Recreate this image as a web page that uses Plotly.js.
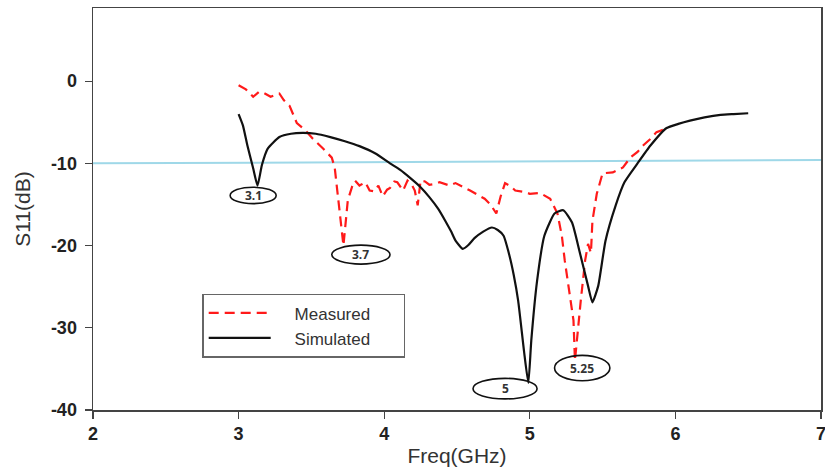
<!DOCTYPE html>
<html><head><meta charset="utf-8">
<script src="https://cdn.plot.ly/plotly-3.0.1.min.js"></script>
<style>html,body{margin:0;padding:0;background:#fff}#chart{width:825px;height:468px}</style>
</head><body><div id="chart"></div>
<script>
// Measured (red dashed)
const measFreq = [3.00,3.05,3.10,3.14,3.17,3.22,3.28,3.31,3.35,3.40,3.46,3.51,3.58,3.64,3.66,3.69,3.72,3.75,3.78,3.80,3.83,3.87,3.90,3.93,3.96,3.99,4.02,4.04,4.07,4.09,4.11,4.13,4.16,4.19,4.21,4.23,4.25,4.28,4.31,4.35,4.38,4.42,4.45,4.49,4.54,4.59,4.64,4.69,4.73,4.77,4.80,4.83,4.87,4.90,4.97,5.00,5.07,5.14,5.19,5.22,5.24,5.27,5.30,5.31,5.33,5.35,5.38,5.40,5.42,5.43,5.46,5.50,5.57,5.64,5.69,5.74,5.78,5.83,5.87,5.92,5.95];
const measS11  = [-0.5,-1.0,-1.9,-1.3,-1.4,-1.9,-1.5,-2.3,-3.0,-5.1,-6.0,-7.0,-8.2,-9.3,-10.5,-15.0,-20.0,-14.5,-12.8,-12.1,-12.7,-12.3,-13.3,-13.4,-12.7,-14.0,-13.2,-13.0,-12.2,-12.3,-12.8,-13.3,-12.1,-12.6,-13.3,-15.1,-12.1,-12.2,-12.6,-12.5,-12.3,-12.5,-12.7,-12.4,-12.8,-13.3,-13.8,-14.3,-15.0,-16.1,-14.0,-12.4,-12.8,-13.3,-13.5,-13.7,-13.6,-14.3,-16.1,-18.8,-21.8,-25.5,-29.1,-34.0,-30.0,-26.7,-21.8,-19.8,-20.9,-17.0,-13.7,-11.2,-11.1,-10.5,-9.3,-8.6,-7.8,-7.0,-6.2,-5.9,-5.7];
// Simulated (black solid)
const simFreq = [3.00,3.03,3.06,3.10,3.13,3.16,3.20,3.28,3.36,3.44,3.53,3.63,3.73,3.83,3.94,4.04,4.11,4.18,4.25,4.31,4.37,4.42,4.46,4.49,4.54,4.58,4.62,4.68,4.74,4.78,4.82,4.86,4.89,4.92,4.96,4.99,5.01,5.05,5.10,5.17,5.23,5.29,5.34,5.40,5.43,5.47,5.52,5.59,5.65,5.74,5.83,5.94,6.02,6.10,6.20,6.31,6.40,6.50];
const simS11  = [-4.0,-5.4,-7.8,-10.6,-12.7,-10.2,-8.2,-6.8,-6.4,-6.3,-6.4,-6.8,-7.3,-7.9,-8.8,-10.0,-10.8,-11.8,-12.9,-14.1,-15.5,-17.0,-18.3,-19.4,-20.4,-19.9,-19.1,-18.3,-17.8,-18.1,-18.8,-21.2,-23.6,-26.7,-32.8,-36.7,-31.6,-24.3,-18.8,-16.1,-15.7,-17.2,-20.6,-24.9,-26.9,-24.9,-19.4,-15.1,-12.3,-10.0,-7.8,-5.7,-5.2,-4.8,-4.4,-4.1,-4.0,-3.9];
// -10 dB reference line
const refFreq = [2, 7];
const refS11 = [-10.0, -9.6];
// Resonance labels (ellipses)
const labelText = ['3.1', '3.7', '5', '5.25'];
const labelX = [3.10, 3.84, 4.83, 5.36];
const labelY = [-13.9, -21.1, -37.4, -34.9];
const labelRX = [0.158, 0.20, 0.22, 0.19];
const labelRY = [1.0, 1.15, 1.25, 1.55];
const xTicks = [2, 3, 4, 5, 6, 7];
const yTicks = [0, -10, -20, -30, -40];

const traces = [
  {x: refFreq, y: refS11, mode: 'lines', line: {color: '#9fd8e8', width: 2}, showlegend: false, hoverinfo: 'skip'},
  {x: measFreq, y: measS11, mode: 'lines', name: '&nbsp;&nbsp;&nbsp;&nbsp;Measured&nbsp;&nbsp;&nbsp;&nbsp;&nbsp;&nbsp;', line: {color: '#ff1a1a', width: 2.2, dash: '10px,6px'}},
  {x: simFreq, y: simS11, mode: 'lines', name: '&nbsp;&nbsp;&nbsp;&nbsp;Simulated&nbsp;&nbsp;&nbsp;&nbsp;&nbsp;&nbsp;', line: {color: '#111', width: 2.2, shape: 'spline', smoothing: 0.5}}
];

const shapes = labelText.map((t, i) => ({
  type: 'circle', xref: 'x', yref: 'y',
  x0: labelX[i] - labelRX[i], x1: labelX[i] + labelRX[i],
  y0: labelY[i] - labelRY[i], y1: labelY[i] + labelRY[i],
  line: {color: '#111', width: 1.6}, fillcolor: 'rgba(255,255,255,0)'
}));
const annotations = labelText.map((t, i) => ({
  x: labelX[i], y: labelY[i], xref: 'x', yref: 'y', text: '<b>' + t + '</b>',
  showarrow: false, font: {family: 'Open Sans, sans-serif', size: 12, color: '#333'}
}));

const layout = {
  width: 825, height: 468,
  margin: {l: 93, r: 4, t: 8, b: 58},
  paper_bgcolor: '#fff', plot_bgcolor: '#fff',
  font: {family: 'Liberation Sans, Arial, sans-serif', color: '#222'},
  xaxis: {
    range: [2, 7], tickvals: xTicks, ticktext: xTicks.map(v => '<b>' + v + '</b>'),
    showgrid: false, zeroline: false, showline: true, linecolor: '#444', linewidth: 1.5, mirror: true,
    ticks: 'outside', ticklen: 7, tickcolor: '#444', tickwidth: 1.2, ticklabeloverflow: 'allow',
    tickfont: {size: 18, color: '#222'},
    title: {text: 'Freq(GHz)', font: {size: 21, color: '#333'}, standoff: 5}
  },
  yaxis: {
    range: [-40, 8.9], tickvals: yTicks, ticktext: yTicks.map(v => '<b>' + v + '</b>'),
    showgrid: false, zeroline: false, showline: true, linecolor: '#444', linewidth: 1.5, mirror: true,
    ticks: 'outside', ticklen: 7, tickcolor: '#444', tickwidth: 1.2, ticklabeloverflow: 'allow',
    ticklabelstandoff: 4,
    tickfont: {size: 18, color: '#222'},
    title: {text: 'S11(dB)', font: {size: 21, color: '#333'}, standoff: 14}
  },
  legend: {
    x: 0.15, y: 0.289, xanchor: 'left', yanchor: 'top',
    bordercolor: '#666', borderwidth: 1.5, bgcolor: '#fff',
    font: {size: 17, color: '#333'}, itemwidth: 62, tracegroupgap: 0
  },
  shapes: shapes,
  annotations: annotations,
  showlegend: true
};
Plotly.newPlot('chart', traces, layout, {displayModeBar: false, staticPlot: true});
</script></body></html>
